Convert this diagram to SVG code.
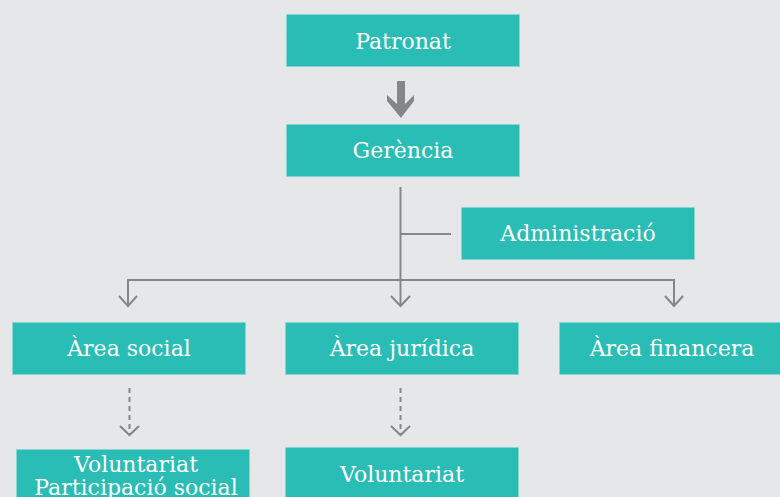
<svg xmlns="http://www.w3.org/2000/svg" width="780" height="497" viewBox="0 0 780 497">
<style>
.bg{fill:#e6e7e8}
.box{fill:#29bdb5;stroke:#86d9d2;stroke-width:1;stroke-dasharray:2 1.5}
.t{font-family:"DejaVu Serif","Liberation Serif",serif;font-size:22px;fill:#ffffff;text-anchor:middle}
.ln{fill:none;stroke:#858689;stroke-width:2}
.dl{fill:none;stroke:#858689;stroke-width:2;stroke-dasharray:5 4}
.hd{fill:none;stroke:#858689;stroke-width:2}
</style>
<rect class="bg" x="0" y="0" width="780" height="497"/>
<g id="connectors">
<path d="M397,81 H405 V104 L414,95 V101 L401,118 L387,101 V95 L397,104 Z" fill="#858689"/>
<path class="ln" d="M400.5,187 V306"/>
<path class="ln" d="M400.5,234 H451"/>
<path class="ln" d="M128,306 V280 H674 V306"/>
<path class="hd" d="M119,296 L128,306 L137,296"/>
<path class="hd" d="M391,296 L400.5,306 L410,296"/>
<path class="hd" d="M665,296 L674,306 L683,296"/>
<path class="dl" d="M129.5,388 V434"/>
<path class="hd" d="M120,426 L129.5,435 L139,426"/>
<path class="dl" d="M400.5,388 V434"/>
<path class="hd" d="M391,426 L400.5,435 L410,426"/>
</g>
<g id="patronat"><rect class="box" x="286.5" y="14.5" width="233" height="52"/><text class="t" x="403" y="49">Patronat</text></g>
<g id="gerencia"><rect class="box" x="286.5" y="124.5" width="233" height="52"/><text class="t" x="403" y="158">Gerència</text></g>
<g id="administracio"><rect class="box" x="461.5" y="207.5" width="233" height="52"/><text class="t" x="578" y="241">Administració</text></g>
<g id="area-social"><rect class="box" x="12.5" y="322.5" width="233" height="52"/><text class="t" x="129" y="356">Àrea social</text></g>
<g id="area-juridica"><rect class="box" x="285.5" y="322.5" width="233" height="52"/><text class="t" x="402" y="356">Àrea jurídica</text></g>
<g id="area-financera"><rect class="box" x="559.5" y="322.5" width="233" height="52"/><text class="t" x="672" y="356">Àrea financera</text></g>
<g id="voluntariat-participacio"><rect class="box" x="16.5" y="449.5" width="233" height="60"/><text class="t" x="136" y="472">Voluntariat</text><text class="t" x="136" y="495">Participació social</text></g>
<g id="voluntariat"><rect class="box" x="285.5" y="447.5" width="233" height="60"/><text class="t" x="402" y="482">Voluntariat</text></g>
</svg>
